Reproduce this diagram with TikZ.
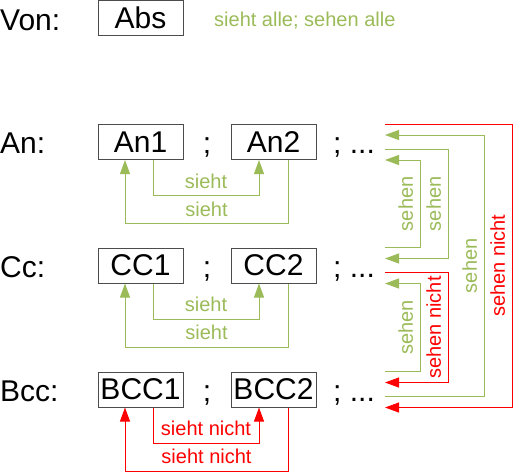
\documentclass[tikz,border=0pt]{standalone}
\usepackage{fontspec}
\setmainfont{Liberation Sans}
\usetikzlibrary{arrows.meta}
\definecolor{seegreen}{RGB}{155,187,89}
\definecolor{nored}{RGB}{255,0,0}
\tikzset{
  field/.style={draw=black!70,line width=1pt,minimum width=85pt,minimum height=35pt,inner sep=0pt,font=\fontsize{30}{36}\selectfont},
  hdr/.style={anchor=base west,inner sep=0pt,font=\fontsize{30}{36}\selectfont},
  punct/.style={anchor=base,inner sep=0pt,font=\fontsize{30}{36}\selectfont},
  sees/.style={seegreen,line width=1pt},
  blind/.style={nored,line width=1pt},
  lbl/.style={anchor=south,inner xsep=0pt,inner ysep=6.5pt,font=\fontsize{20}{24}\selectfont},
  vlbl/.style={lbl,rotate=90}
}

\begin{document}
\begin{tikzpicture}[x=1pt,y=-1pt,>={Triangle[length=14pt,width=10pt]}]
  \useasboundingbox (0,0) rectangle (513,472);
  % Absender
  \node[hdr] (von) at (0,30) {Von:};
  \node[field] (abs) at (140.5,18) {Abs};
  \node[hdr,seegreen,font=\fontsize{20}{24}\selectfont] (absnote) at (214,26) {sieht alle; sehen alle};
  % Empfaengerzeilen
  \foreach \r/\h/\t/\y/\s/\w in {an/An/An/142/sees/sieht, cc/Cc/CC/265.5/sees/sieht, bcc/Bcc/BCC/389.5/blind/sieht nicht}{
    \node[hdr] (\r-hdr) at (0,\y+11.5) {\h:};
    \node[field] (\r1) at (140.5,\y) {\t1};
    \node[punct] (\r-semi) at (207,\y+11.5) {;};
    \node[field] (\r2) at (273.5,\y) {\t2};
    \node[hdr] (\r-more) at (333,\y+11.5) {; ...};
    \coordinate (\r-a) at (385,\y-18);
    \coordinate (\r-b) at (385,\y-7);
    \coordinate (\r-c) at (385,\y+7);
    \coordinate (\r-d) at (385,\y+18);
    \draw[\s,->] ([xshift=12.5pt]\r1.south) -- ++(0,35.5) -| node[pos=0.25,lbl,\s]{\w} ([xshift=-14.5pt]\r2.south);
    \draw[\s,->] ([xshift=14.5pt]\r2.south) -- ++(0,63.5) -| node[pos=0.25,lbl,\s]{\w} ([xshift=-15.5pt]\r1.south);
  }
  % zwischen den Zeilen
  \draw[blind,->] (an-a) -- ++(127,0) |- node[pos=0.25,vlbl]{sehen nicht} (bcc-d);
  \draw[sees,->] (bcc-c) -- ++(99,0) |- node[pos=0.25,vlbl]{sehen} (an-b);
  \draw[sees,->] (an-c) -- ++(63,0) |- node[pos=0.25,vlbl]{sehen} (cc-b);
  \draw[sees,->] (cc-a) -- ++(35,0) |- node[pos=0.25,vlbl]{sehen} (an-d);
  \draw[blind,->] (cc-c) -- ++(63,0) |- node[pos=0.25,vlbl]{sehen nicht} (bcc-b);
  \draw[sees,->] (bcc-a) -- ++(35,0) |- node[pos=0.25,vlbl]{sehen} (cc-d);
\end{tikzpicture}
\end{document}
